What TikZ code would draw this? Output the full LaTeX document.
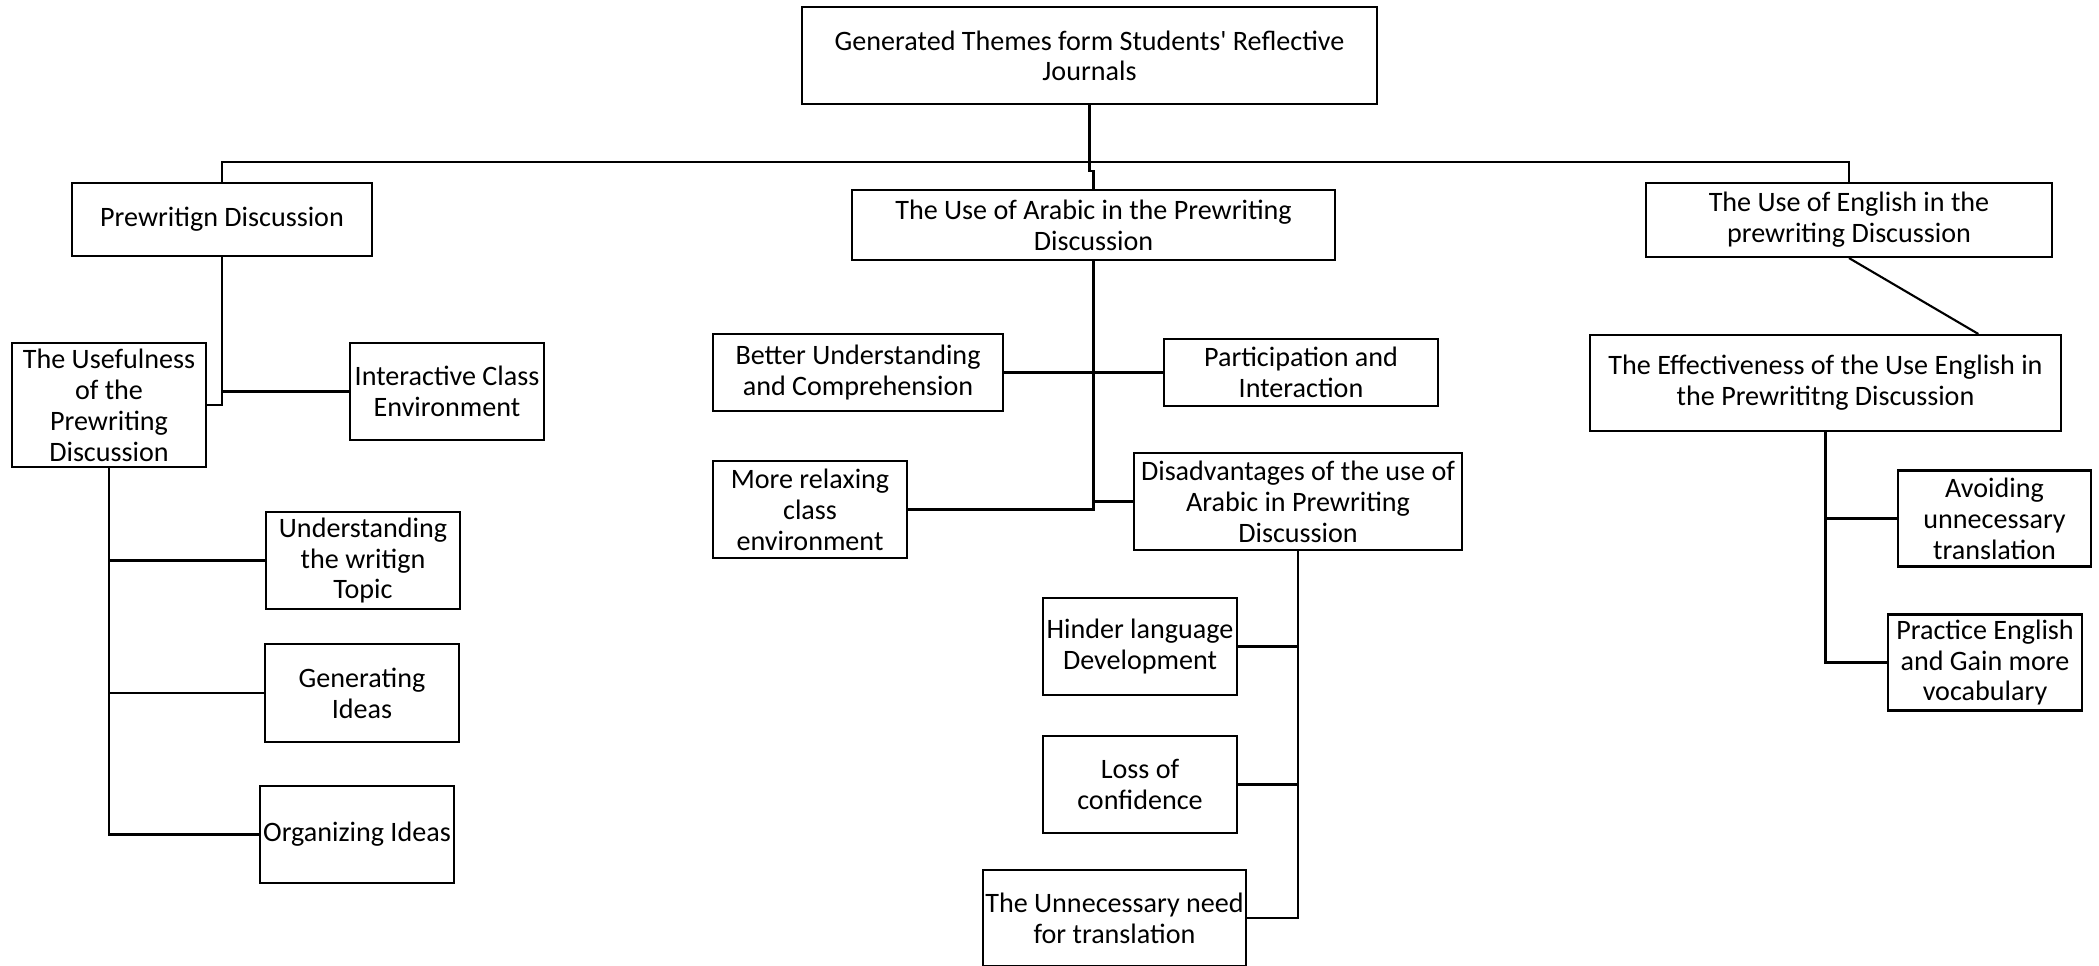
\documentclass[tikz,border=0pt]{standalone}
\usepackage{fontspec}
\setmainfont{Carlito}
\usepackage{tikz}
\usetikzlibrary{positioning, calc}

\begin{document}
\begin{tikzpicture}[
    x=0.015cm, y=-0.015cm,
    font=\fontsize{12}{13.2}\selectfont,
    % Styles
    theme/.style={
        draw, fill=white, align=center, inner sep=0pt,
        line width=0.9pt,
        minimum width=194*0.015cm, minimum height=97*0.015cm
    },
    boxsize/.style 2 args={minimum width=#1*0.015cm, minimum height=#2*0.015cm},
    link/.style={line width=0.9pt, color=black}
]
    \useasboundingbox (0,0) rectangle (2099,965);

    % --- Root ---
    \node[theme, boxsize={575}{97}] (root) at (1089.5,55.8) {Generated Themes form Students\textquotesingle\ Reflective\\Journals};

    % --- Main themes ---
    \node[theme, boxsize={300}{73}] (pre) at (222,219.5) {Prewritign Discussion};
    \node[theme, boxsize={483}{70}] (arabic) at (1093.5,225) {The Use of Arabic in the Prewriting\\Discussion};
    \node[theme, boxsize={406}{74}] (eng) at (1849,220) {The Use of English in the\\prewriting Discussion};

    % --- Prewriting discussion branch ---
    \node[theme, boxsize={194}{124}] (useful) at (109,405) {The Usefulness\\of the\\Prewriting\\Discussion};
    \node[theme] (inter) at (447,391.5) {Interactive Class\\Environment};
    \node[theme] (underst) at (363,560.5) {Understanding\\the writign\\Topic};
    \node[theme, boxsize={194}{98}] (gen) at (362,693) {Generating\\Ideas};
    \node[theme] (org) at (357,834.5) {Organizing Ideas};

    % --- Arabic branch ---
    \node[theme, boxsize={290}{77}] (better) at (858,372.5) {Better Understanding\\and Comprehension};
    \node[theme, boxsize={274}{67}] (partic) at (1301,372.5) {Participation and\\Interaction};
    \node[theme] (relax) at (810,509.5) {More relaxing\\class\\environment};
    \node[theme, boxsize={328}{97}] (disadv) at (1298,501.5) {Disadvantages of the use of\\Arabic in Prewriting\\Discussion};
    \node[theme] (hinder) at (1140,646.5) {Hinder language\\Development};
    \node[theme] (loss) at (1140,784.5) {Loss of\\confidence};
    \node[theme, boxsize={263}{96}] (unnec) at (1114.5,918) {The Unnecessary need\\for translation};

    % --- English branch ---
    \node[theme, boxsize={471}{96}] (effect) at (1825.5,383) {The Effectiveness of the Use English in\\the Prewrititng Discussion};
    \node[theme, boxsize={193}{96}] (avoid) at (1994.5,518.5) {Avoiding\\unnecessary\\translation};
    \node[theme, boxsize={194}{96}] (practice) at (1985,662.5) {Practice English\\and Gain more\\vocabulary};

    % --- Connections ---
    % Root to themes
    \draw[link] (root.south) -- ++(0,66) -| (arabic.north);
    \draw[link] (pre.north) -- ++(0,-20) -| (eng.north);

    % Prewriting discussion
    \draw[link] (pre.south) |- (useful.east);
    \draw[link] (pre.south |- inter.west) -- (inter.west);
    \draw[link] (useful.south) |- (org.west);
    \draw[link] (useful.south |- underst.west) -- (underst.west);
    \draw[link] (useful.south |- gen.west) -- (gen.west);

    % Arabic
    \draw[link] (better.east) -- (partic.west);
    \draw[link] (arabic.south) |- (relax.east);
    \draw[link] (arabic.south |- disadv.west) -- (disadv.west);
    \draw[link] (disadv.south) |- (unnec.east);
    \draw[link] (disadv.south |- hinder.east) -- (hinder.east);
    \draw[link] (disadv.south |- loss.east) -- (loss.east);

    % English
    \draw[link] (eng.south) -- ($(effect.north west)!0.823!(effect.north east)$);
    \draw[link] (effect.south) |- (practice.west);
    \draw[link] (effect.south |- avoid.west) -- (avoid.west);

\end{tikzpicture}
\end{document}
